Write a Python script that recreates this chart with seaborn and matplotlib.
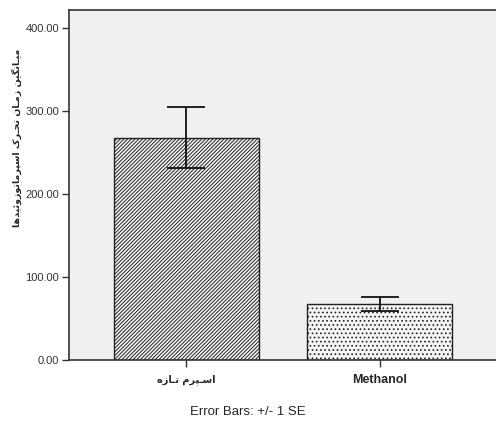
import numpy as np
import pandas as pd
import matplotlib
matplotlib.use("Agg")
import matplotlib.pyplot as plt
import seaborn as sns

# values
groups = ["اسـپرم تـازه", "Methanol"]
means = [268.0, 67.5]
se = [36.5, 9.0]
y_ticks = [0, 100, 200, 300, 400]
y_label = "میـانگین زمـان تحـرک اسپرماتوزوئیدها"
footer = "Error Bars: +/- 1 SE"

# minimal Persian shaping (matplotlib has no bidi / joining)
FORMS = {
    "ا": ("\uFE8D", "\uFE8E", None, None),
    "د": ("\uFEA9", "\uFEAA", None, None),
    "ر": ("\uFEAD", "\uFEAE", None, None),
    "ز": ("\uFEAF", "\uFEB0", None, None),
    "و": ("\uFEED", "\uFEEE", None, None),
    "پ": ("\uFB56", "\uFB57", "\uFB58", "\uFB59"),
    "ت": ("\uFE95", "\uFE96", "\uFE97", "\uFE98"),
    "ح": ("\uFEA1", "\uFEA2", "\uFEA3", "\uFEA4"),
    "س": ("\uFEB1", "\uFEB2", "\uFEB3", "\uFEB4"),
    "ک": ("\uFB8E", "\uFB8F", "\uFB90", "\uFB91"),
    "گ": ("\uFB92", "\uFB93", "\uFB94", "\uFB95"),
    "م": ("\uFEE1", "\uFEE2", "\uFEE3", "\uFEE4"),
    "ن": ("\uFEE5", "\uFEE6", "\uFEE7", "\uFEE8"),
    "ه": ("\uFEE9", "\uFEEA", "\uFEEB", "\uFEEC"),
    "ی": ("\uFBFC", "\uFBFD", "\uFBFE", "\uFBFF"),
    "ئ": ("\uFE89", "\uFE8A", "\uFE8B", "\uFE8C"),
}
TATWEEL = "\u0640"


def dual(c):
    return c == TATWEEL or (c in FORMS and FORMS[c][2] is not None)


def joining(c):
    return c == TATWEEL or c in FORMS


def shape(text):
    if all(ord(c) < 128 for c in text):
        return text
    out = []
    for i, c in enumerate(text):
        if c not in FORMS:
            out.append(c)
            continue
        prev = text[i - 1] if i > 0 else " "
        nxt = text[i + 1] if i + 1 < len(text) else " "
        jp = dual(prev)
        jn = dual(c) and joining(nxt)
        iso, fin, ini, med = FORMS[c]
        if jp and jn:
            out.append(med)
        elif jp:
            out.append(fin)
        elif jn:
            out.append(ini)
        else:
            out.append(iso)
    return "".join(out)[::-1]


sns.set_style("white")
plt.rcParams["font.family"] = ["Liberation Sans", "DejaVu Sans"]
plt.rcParams["hatch.linewidth"] = 0.7

df = pd.DataFrame({"group": [shape(g) for g in groups], "mean": means})

fig = plt.figure(figsize=(4.96, 4.28), dpi=100)
ax = fig.add_axes([69 / 496, 68 / 428, 427 / 496, 350 / 428])
ax.set_facecolor("#f0f0f0")

sns.barplot(data=df, x="group", y="mean", ax=ax, width=0.75,
            color="white", edgecolor="#222222", linewidth=1.0,
            errorbar=None)
for bar, h in zip(ax.patches, ["/////////", "...."]):
    bar.set_hatch(h)
    bar.set_facecolor("#f4f4f4")

ax.errorbar(range(len(means)), means, yerr=se, fmt="none",
            ecolor="#111111", elinewidth=1.3, capsize=14, capthick=1.3)

ax.set_xlim(-0.607, 1.6)
ax.set_ylim(0, 421.7)
ax.set_yticks(y_ticks)
ax.set_yticklabels([f"{v:.2f}" for v in y_ticks], fontsize=8,
                   color="#333333")
ax.set_xticks(range(len(groups)))
ax.set_xticklabels(df["group"], fontsize=7, fontweight="bold",
                   family=["DejaVu Sans"])
ax.get_xticklabels()[1].set_family(["Liberation Sans"])
ax.get_xticklabels()[1].set_fontsize(9)
ax.tick_params(axis="both", direction="out", length=5, width=1,
               color="#333333", pad=2, bottom=True, left=True)
ax.tick_params(axis="x", pad=5)
ax.set_xlabel("")
ax.set_ylabel("")

for side in ["left", "top", "bottom"]:
    ax.spines[side].set_visible(True)
    ax.spines[side].set_color("#333333")
    ax.spines[side].set_linewidth(1.2)
ax.spines["right"].set_visible(False)

fig.text(17 / 496, 1 - 138 / 428, shape(y_label), rotation=90,
         ha="center", va="center", fontsize=6.8, fontweight="bold",
         family=["DejaVu Sans"])
fig.text(248 / 496, 1 - 412 / 428, footer, ha="center", va="center",
         fontsize=9.5)

fig.savefig("out.png", dpi=100)
